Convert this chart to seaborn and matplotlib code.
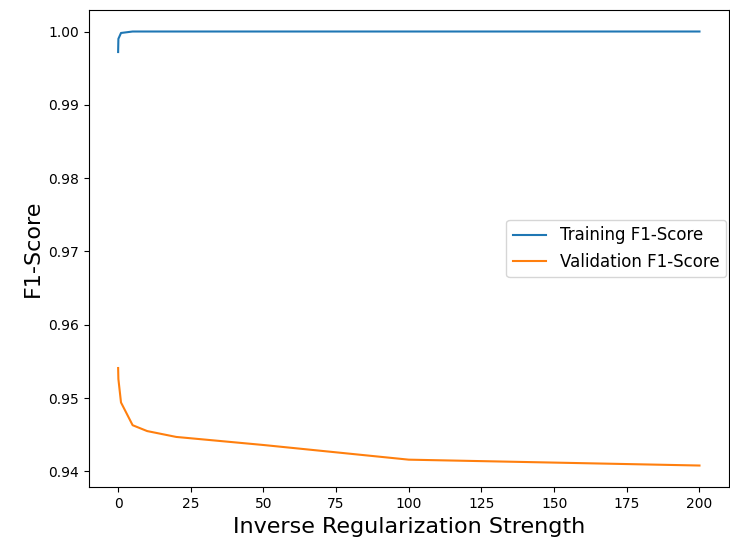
import matplotlib
matplotlib.use("Agg")
import matplotlib.pyplot as plt
import seaborn as sns
import pandas as pd

C_values = [0.01, 0.1, 1, 5, 10, 20, 50, 100, 200]
train_f1 = [0.9972, 0.9990, 0.9998, 1.0, 1.0, 1.0, 1.0, 1.0, 1.0]
val_f1 = [0.9541, 0.9526, 0.9494, 0.9463, 0.9455, 0.9447, 0.9436, 0.9416, 0.9408]
labels = ["Training F1-Score", "Validation F1-Score"]

df = pd.DataFrame({
    "C": C_values * 2,
    "F1": train_f1 + val_f1,
    "Series": [labels[0]] * len(C_values) + [labels[1]] * len(C_values),
})

fig = plt.figure(figsize=(7.3, 5.45), dpi=100)
ax = fig.add_axes([0.122, 0.106, 0.876, 0.876])
sns.lineplot(data=df, x="C", y="F1", hue="Series", ax=ax,
             palette=["#1f77b4", "#ff7f0e"], linewidth=1.5)
ax.set_xlabel("Inverse Regularization Strength", fontsize=16)
ax.set_ylabel("F1-Score", fontsize=16)
ax.set_xticks([0, 25, 50, 75, 100, 125, 150, 175, 200])
ax.legend(loc="center right", fontsize=12, borderaxespad=0.15)
fig.savefig("out.png", dpi=100)
